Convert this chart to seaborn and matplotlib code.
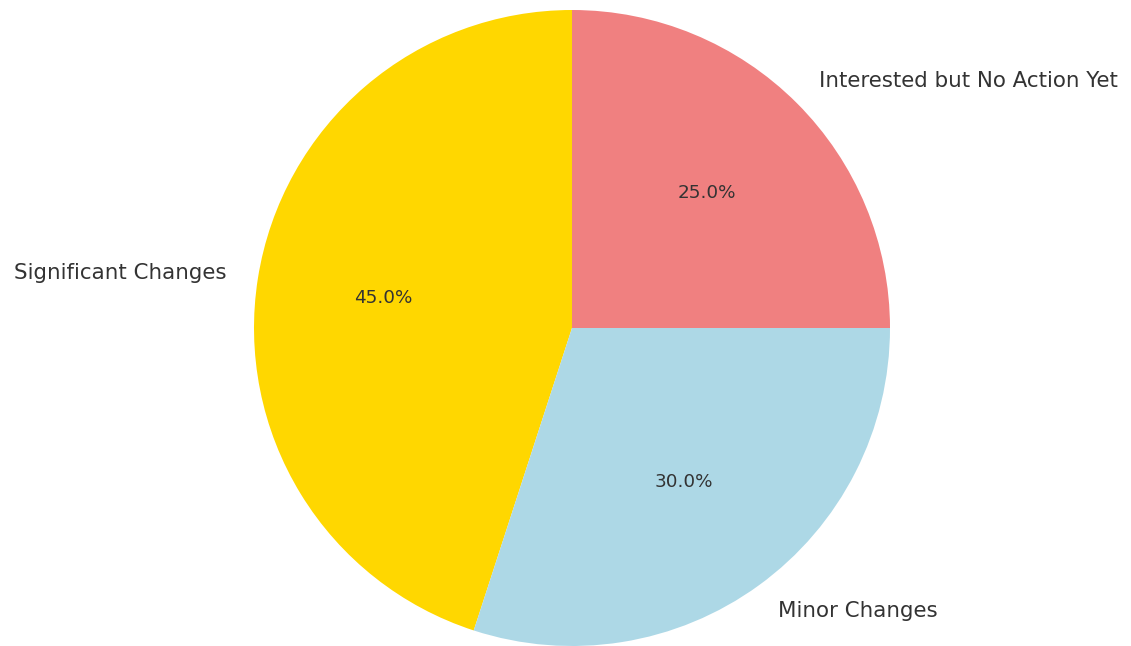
import matplotlib
matplotlib.use("Agg")
import matplotlib.pyplot as plt
import seaborn as sns

sns.set_theme(style="white")
plt.rcParams['font.family'] = ['DejaVu Sans']

categories = ["Significant Changes", "Minor Changes", "Interested but No Action Yet"]
values = [45, 30, 25]
colors = ["gold", "lightblue", "lightcoral"]

W, H = 1131, 646
fig = plt.figure(figsize=(W / 100, H / 100), dpi=100)
ax = fig.add_axes([0, 0, 1, 1])

wedges, texts, autotexts = ax.pie(
    values, labels=categories, colors=colors, autopct="%1.1f%%",
    startangle=90, textprops={"color": "0.2", "fontsize": 15.4},
    wedgeprops={"linewidth": 0},
)
for t in autotexts:
    t.set_fontsize(13.2)

R = 318.0
cx, cy = 572.0, 328.0
ax.set_xlim(-cx / R, (W - cx) / R)
ax.set_ylim(-(H - cy) / R, cy / R)
ax.set_aspect("auto")
ax.axis("off")

fig.savefig("out.png", dpi=100)
